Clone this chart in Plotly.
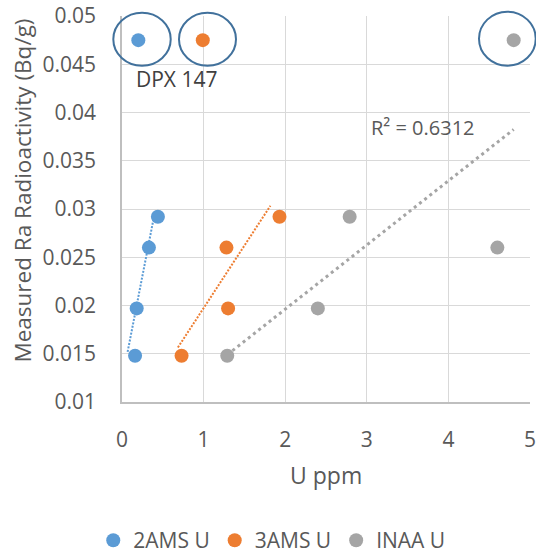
import numpy as np
import plotly.graph_objects as go

# ---- data ----
ra_y = [0.0475, 0.0148, 0.0197, 0.0260, 0.0292]
ams2_x = [0.20, 0.16, 0.18, 0.33, 0.44]
ams3_x = [0.99, 0.73, 1.30, 1.28, 1.93]
inaa_y = [0.0475, 0.0148, 0.0197, 0.0292, 0.0260]
inaa_x = [4.80, 1.29, 2.40, 2.79, 4.60]

# dotted guide lines for 2AMS / 3AMS (endpoints)
ams2_trend_x = [0.069, 0.387]
ams2_trend_y = [0.0152, 0.0290]
ams3_trend_x = [0.685, 1.819]
ams3_trend_y = [0.01565, 0.03034]

y_ticks = [0.01, 0.015, 0.02, 0.025, 0.03, 0.035, 0.04, 0.045, 0.05]
y_ticktext = ["0.01", "0.015", "0.02", "0.025", "0.03", "0.035", "0.04", "0.045", "0.05"]
x_ticks = [0, 1, 2, 3, 4, 5]

names = ["2AMS U", "3AMS U", "INAA U"]
colors = ["#5B9BD5", "#ED7D31", "#A5A5A5"]

FONT = "Open Sans"
TXT = "#595959"

# linear trend for INAA (Excel-style least squares)
slope, intercept = np.polyfit(inaa_x, inaa_y, 1)
inaa_trend_x = [min(inaa_x), max(inaa_x)]
inaa_trend_y = [slope * v + intercept for v in inaa_trend_x]

fig = go.Figure()

# trendlines (under markers)
fig.add_trace(go.Scatter(x=ams2_trend_x, y=ams2_trend_y, mode="lines",
                         line=dict(color=colors[0], width=2, dash="2px,1.5px"),
                         showlegend=False, hoverinfo="skip"))
fig.add_trace(go.Scatter(x=ams3_trend_x, y=ams3_trend_y, mode="lines",
                         line=dict(color=colors[1], width=2, dash="2px,1.5px"),
                         showlegend=False, hoverinfo="skip"))
fig.add_trace(go.Scatter(x=inaa_trend_x, y=inaa_trend_y, mode="lines",
                         line=dict(color=colors[2], width=3, dash="3px,3.6px"),
                         showlegend=False, hoverinfo="skip"))

# markers
for xs, ys, nm, c in [(ams2_x, ra_y, names[0], colors[0]),
                      (ams3_x, ra_y, names[1], colors[1]),
                      (inaa_x, inaa_y, names[2], colors[2])]:
    fig.add_trace(go.Scatter(x=xs, y=ys, mode="markers", name=nm,
                             marker=dict(color=c, size=14, line=dict(width=0))))

# outlier circles
circ = "#41719C"
shapes = []
for x0, x1, y0, y1 in [(-0.0213, 0.1194, 0.8712, 1.0085),
                       (0.1397, 0.2794, 0.8712, 1.0085),
                       (0.875, 1.0140, 0.8712, 1.0111)]:
    shapes.append(dict(type="circle", xref="paper", yref="paper",
                       x0=x0, x1=x1, y0=y0, y1=y1,
                       line=dict(color=circ, width=2), fillcolor="rgba(0,0,0,0)",
                       layer="above"))

annotations = [
    dict(text="DPX 147", x=0.67, y=0.0435, xref="x", yref="y", showarrow=False,
         font=dict(family=FONT, size=21, color="#404040")),
    dict(text="R² = 0.6312", x=3.69, y=0.0384, xref="x", yref="y", showarrow=False,
         font=dict(family=FONT, size=20, color=TXT)),
    dict(text="U ppm", x=0.5, y=-0.19, xref="paper", yref="paper", showarrow=False,
         xanchor="center", yanchor="middle",
         font=dict(family=FONT, size=23, color=TXT)),
    dict(text="Measured Ra Radioactivity (Bq/g)", x=-0.244, y=0.549, xref="paper",
         yref="paper", showarrow=False, textangle=-90, xanchor="center", yanchor="middle",
         font=dict(family=FONT, size=22.5, color=TXT)),
]

fig.update_layout(
    width=536, height=555,
    margin=dict(l=122, r=6, t=16, b=153),
    paper_bgcolor="white", plot_bgcolor="white",
    font=dict(family=FONT, size=21, color=TXT),
    shapes=shapes, annotations=annotations,
    legend=dict(orientation="h", xref="container", yref="container",
                x=0.507, xanchor="center", y=0.026, yanchor="middle",
                font=dict(family=FONT, size=21, color=TXT),
                itemwidth=30, tracegroupgap=0),
    xaxis=dict(range=[0, 5], tickvals=x_ticks, showgrid=True, gridcolor="#D9D9D9",
               gridwidth=1, showline=True, linecolor="#BFBFBF", linewidth=1.5,
               zeroline=False, ticks="", ticklabelstandoff=18,
               ticklabeloverflow="allow", automargin=False,
               tickfont=dict(family=FONT, size=21, color=TXT)),
    yaxis=dict(range=[0.01, 0.05], tickvals=y_ticks, ticktext=y_ticktext,
               showgrid=True, gridcolor="#D9D9D9", gridwidth=1,
               showline=True, linecolor="#BFBFBF", linewidth=1.5,
               zeroline=False, ticks="", ticklabelstandoff=20,
               ticklabeloverflow="allow", automargin=False,
               tickfont=dict(family=FONT, size=21, color=TXT)),
)

fig.write_html("out.html")
